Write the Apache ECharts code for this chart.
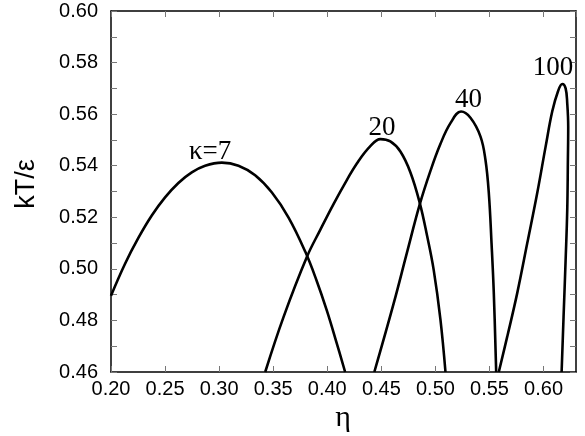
<!DOCTYPE html>
<html>
<head>
<meta charset="utf-8">
<script src="https://cdn.jsdelivr.net/npm/echarts@6/dist/echarts.min.js"></script>
<style>
html,body{margin:0;padding:0;background:#fff;}
#c{width:585px;height:436px;}
</style>
</head>
<body>
<div id="c"></div>
<script>
// Data
const eta7 = [0.2000, 0.2130, 0.2253, 0.2377, 0.2500, 0.2623, 0.2747, 0.2870, 0.3025, 0.3179, 0.3333, 0.3488, 0.3642, 0.3796, 0.3900, 0.3997, 0.4085, 0.4165];
const kt7  = [0.4896, 0.5020, 0.5120, 0.5207, 0.5277, 0.5333, 0.5374, 0.5400, 0.5412, 0.5400, 0.5363, 0.5296, 0.5199, 0.5067, 0.4956, 0.4837, 0.4715, 0.4600];
const eta20 = [0.3426, 0.3596, 0.3812, 0.3935, 0.4059, 0.4182, 0.4275, 0.4398, 0.4491, 0.4583, 0.4676, 0.4769, 0.4855, 0.4923, 0.4984, 0.5046, 0.5093];
const kt20  = [0.4600, 0.4814, 0.5047, 0.5151, 0.5252, 0.5345, 0.5410, 0.5476, 0.5503, 0.5494, 0.5455, 0.5374, 0.5256, 0.5128, 0.4996, 0.4805, 0.4600];
const eta40 = [0.4435, 0.4614, 0.4735, 0.4855, 0.4954, 0.5046, 0.5139, 0.5237, 0.5324, 0.5417, 0.5463, 0.5494, 0.5519, 0.5540, 0.5562];
const kt40  = [0.4600, 0.4866, 0.5060, 0.5250, 0.5380, 0.5484, 0.5565, 0.5610, 0.5586, 0.5513, 0.5422, 0.5293, 0.5099, 0.4905, 0.4600];
const eta100 = [0.5586, 0.5664, 0.5756, 0.5849, 0.5941, 0.6019, 0.6080, 0.6133, 0.6173, 0.6204, 0.6219, 0.6228, 0.6225, 0.6219, 0.6204, 0.6185, 0.6167];
const kt100  = [0.4600, 0.4737, 0.4905, 0.5099, 0.5293, 0.5474, 0.5610, 0.5688, 0.5717, 0.5700, 0.5642, 0.5551, 0.5422, 0.5228, 0.5034, 0.4814, 0.4600];
const curveLabels = ['κ=7', '20', '40', '100'];
const labelEta = [0.2917, 0.4505, 0.5306, 0.6088];
const labelKt  = [0.5453, 0.5546, 0.5657, 0.5781];
const xTicks = { min: 0.20, max: 0.63, step: 0.05 };
const yTicks = { min: 0.46, max: 0.60, step: 0.02 };

const zip = (a, b) => a.map((v, i) => [v, b[i]]);
const chart = echarts.init(document.getElementById('c'), null, { renderer: 'canvas' });

const axisLineStyle = { color: '#000', width: 1.5 };
const tickStyle = { color: '#777', width: 1 };
const mkSeries = (e, k) => ({
  type: 'line', data: zip(e, k), smooth: 0.4, symbol: 'none',
  lineStyle: { color: '#000', width: 2.6 }, clip: true, animation: false
});

chart.setOption({
  animation: false,
  grid: { left: 111, top: 11, right: 9, bottom: 64, containLabel: false },
  xAxis: [{
    type: 'value', min: xTicks.min, max: xTicks.max, interval: xTicks.step,
    axisLine: { lineStyle: axisLineStyle },
    axisTick: { inside: true, length: 6, lineStyle: tickStyle },
    minorTick: { show: false },
    splitLine: { show: false },
    axisLabel: { color: '#000', fontFamily: 'Liberation Sans', fontSize: 20, margin: 7,
      showMaxLabel: false, formatter: v => v.toFixed(2) }
  }, {
    type: 'value', position: 'top', min: xTicks.min, max: xTicks.max, interval: xTicks.step,
    axisLine: { show: true, onZero: false, lineStyle: axisLineStyle },
    axisTick: { inside: true, length: 6, lineStyle: tickStyle },
    axisLabel: { show: false }, splitLine: { show: false }
  }],
  yAxis: [{
    type: 'value', min: yTicks.min, max: yTicks.max, interval: yTicks.step,
    axisLine: { show: true, lineStyle: axisLineStyle },
    axisTick: { inside: true, length: 6, lineStyle: tickStyle },
    minorTick: { show: true, splitNumber: 2, length: 6, lineStyle: tickStyle },
    splitLine: { show: false },
    axisLabel: { color: '#000', fontFamily: 'Liberation Sans', fontSize: 20, margin: 13,
      formatter: v => v.toFixed(2) }
  }, {
    type: 'value', position: 'right', min: yTicks.min, max: yTicks.max, interval: yTicks.step,
    axisLine: { show: true, onZero: false, lineStyle: axisLineStyle },
    axisTick: { inside: true, length: 6, lineStyle: tickStyle },
    minorTick: { show: true, splitNumber: 2, length: 6, lineStyle: tickStyle },
    axisLabel: { show: false }, splitLine: { show: false }
  }],
  series: [mkSeries(eta7, kt7), mkSeries(eta20, kt20), mkSeries(eta40, kt40), mkSeries(eta100, kt100)]
});

const g = [];
curveLabels.forEach((t, i) => {
  const p = chart.convertToPixel({ xAxisIndex: 0, yAxisIndex: 0 }, [labelEta[i], labelKt[i]]);
  g.push({ type: 'text', x: p[0], y: p[1], z: 10,
    style: { text: t, fill: '#000', font: '27px "Liberation Serif"', align: 'center', verticalAlign: 'middle' } });
});
g.push({ type: 'text', x: 27, y: 184, rotation: Math.PI / 2, z: 10,
  style: { text: 'kT/ε', fill: '#000', font: '27px "Liberation Sans"', align: 'center', verticalAlign: 'middle' } });
g.push({ type: 'text', x: 343, y: 418, z: 10,
  style: { text: 'η', fill: '#000', font: '30px "Liberation Serif"', align: 'center', verticalAlign: 'middle' } });
chart.setOption({ graphic: g });
</script>
</body>
</html>
